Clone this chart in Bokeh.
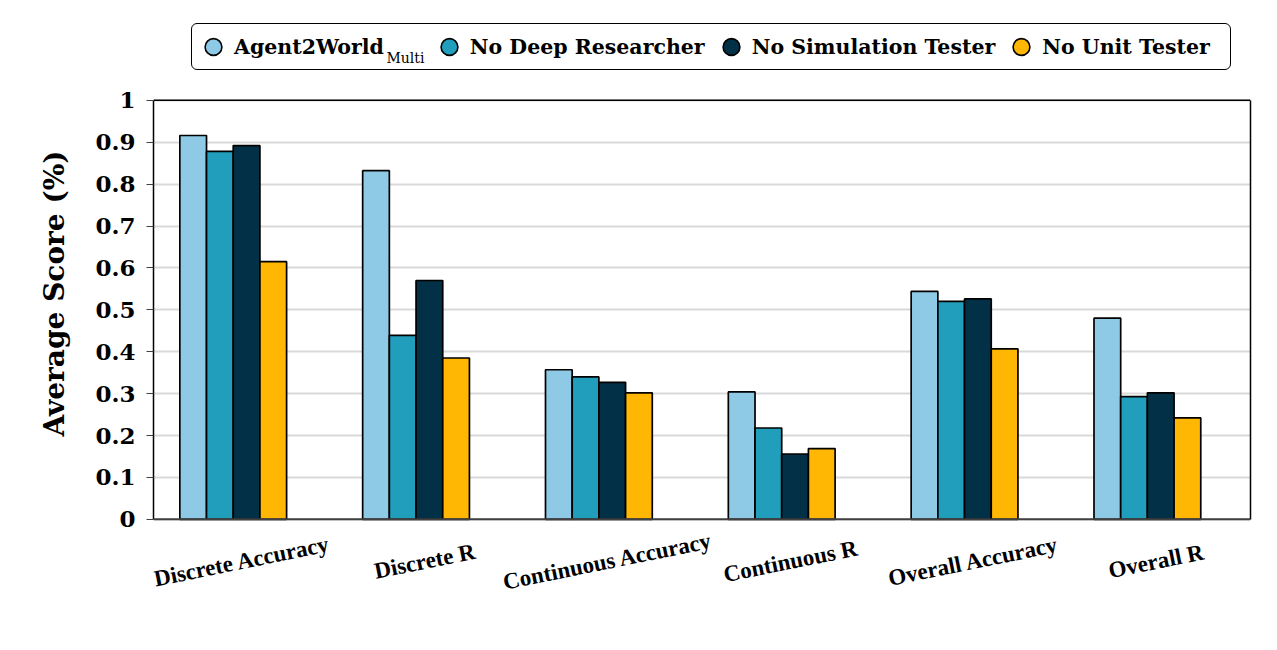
from bokeh.plotting import figure
from bokeh.models import (ColumnDataSource, FactorRange, Legend, LegendItem, LabelSet, Label,
                          FixedTicker, LinearAxis, Span, Title, Range1d)
from bokeh.transform import dodge
from bokeh.embed import file_html
from bokeh.resources import INLINE

categories = ["Discrete Accuracy", "Discrete R", "Continuous Accuracy",
              "Continuous R", "Overall Accuracy", "Overall R"]
agent2world_multi = [0.916, 0.832, 0.357, 0.304, 0.544, 0.480]
no_deep_researcher = [0.878, 0.439, 0.340, 0.218, 0.520, 0.293]
no_simulation_tester = [0.892, 0.570, 0.327, 0.156, 0.526, 0.302]
no_unit_tester = [0.615, 0.385, 0.302, 0.169, 0.407, 0.242]
# first series is "Agent2World" with subscript "Multi" (subscript drawn separately)
series_names = ["Agent2World\u2002\u2002\u2002\u2009\u2009", "No Deep Researcher",
                "No Simulation Tester", "No Unit Tester"]
subscript_text = "Multi"
y_ticks = [0, 0.1, 0.2, 0.3, 0.4, 0.5, 0.6, 0.7, 0.8, 0.9, 1.0]
y_tick_labels = ["0", "0.1", "0.2", "0.3", "0.4", "0.5", "0.6", "0.7", "0.8", "0.9", "1"]

colors = ["#8ECAE6", "#219EBC", "#023047", "#FFB703"]
cols = ["a", "b", "c", "d"]

source = ColumnDataSource(dict(cat=categories, a=agent2world_multi, b=no_deep_researcher,
                               c=no_simulation_tester, d=no_unit_tester, zero=[0] * len(categories)))

SERIF = "DejaVu Serif"

# frame extends below 0 and above 1 so that the category labels and the legend
# (drawn inside the frame) are not clipped; the visible box is drawn for 0..1 only
p = figure(x_range=FactorRange(factors=categories, range_padding=0),
           y_range=Range1d(-0.27, 1.2),
           width=1270, height=640, output_backend="svg", toolbar_location=None,
           min_border_left=153, min_border_right=20, min_border_top=16, min_border_bottom=8)

offsets = [-0.283, -0.137, 0.009, 0.155]
for col, color, off in zip(cols, colors, offsets):
    p.vbar(x=dodge("cat", off, range=p.x_range), top=col, width=0.146, source=source,
           fill_color=color, line_color="black", line_width=1.7)

# legend proxies: circle markers kept below the visible area
proxy = ColumnDataSource(dict(x=[categories[0]], y=[-5.0]))
items = []
for name, color in zip(series_names, colors):
    r = p.scatter(x="x", y="y", source=proxy, marker="circle", size=14, fill_color=color,
                  line_color="black", line_width=1.6)
    items.append(LegendItem(label=name, renderers=[r]))
legend = Legend(items=items, orientation="horizontal", location=(38, 562),
                label_text_font=SERIF, label_text_font_style="bold",
                label_text_font_size="20.5px", label_text_color="black",
                glyph_width=42, glyph_height=45, label_width=188,
                label_standoff=0, spacing=5, padding=0, margin=0,
                background_fill_alpha=0.0,
                border_line_color="black", border_line_width=1.5, border_line_alpha=1.0)
if "border_radius" in Legend.properties():
    legend.border_radius = 6
p.add_layout(legend, "center")

sub = Label(x=233, y=575, x_units="screen", y_units="screen", text=subscript_text,
            text_font=SERIF, text_font_size="14px", text_color="black",
            text_baseline="alphabetic", text_align="left", level="overlay")
p.add_layout(sub)

# grid / box
p.xgrid.grid_line_color = None
p.ygrid.grid_line_color = "#d9d9d9"
p.ygrid.grid_line_width = 2
p.ygrid.ticker = FixedTicker(ticks=y_ticks)
p.outline_line_color = None
p.add_layout(Span(location=1, dimension="width", line_color="black", line_width=1.5))
p.add_layout(Span(location=0, dimension="width", line_color="#404040", line_width=2))
right_axis = LinearAxis(bounds=(0, 1), ticker=FixedTicker(ticks=[]),
                        axis_line_color="black", axis_line_width=1.5,
                        major_tick_line_color=None, minor_tick_line_color=None)
p.add_layout(right_axis, "right")

# y axis
yax = p.yaxis[0]
yax.bounds = (0, 1)
yax.ticker = FixedTicker(ticks=y_ticks)
yax.major_label_overrides = {t: l for t, l in zip(y_ticks, y_tick_labels)}
yax.major_label_text_font = SERIF
yax.major_label_text_font_style = "bold"
yax.major_label_text_font_size = "23px"
yax.major_label_text_color = "black"
yax.major_label_standoff = 11
yax.major_tick_in = 0
yax.major_tick_out = 7
yax.major_tick_line_color = "#404040"
yax.minor_tick_line_color = None
yax.axis_line_color = "black"
yax.axis_line_width = 1.5

ylabel = Title(text="Average Score (%)", align="right", offset=134,
               text_font=SERIF, text_font_style="bold", text_font_size="28px",
               text_color="black", standoff=44)
p.add_layout(ylabel, "left")

# x axis: built-in axis hidden, centered rotated category labels drawn instead
p.xaxis.visible = False

labels = LabelSet(x="cat", y="zero", text="cat", source=source, y_offset=-42, x_offset=-3,
                  angle=0.2, text_align="center", text_baseline="middle",
                  text_font=SERIF, text_font_style="bold", text_font_size="23px",
                  text_color="black")
p.add_layout(labels)

open("out.html", "w").write(file_html(p, INLINE))
